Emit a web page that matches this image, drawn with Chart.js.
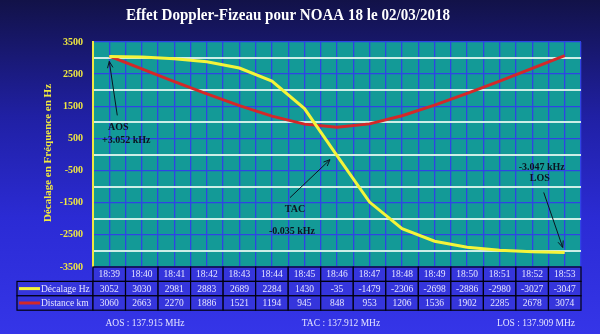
<!DOCTYPE html>
<html><head><meta charset="utf-8">
<script src="https://cdn.jsdelivr.net/npm/chart.js@4"></script>
<style>html,body{margin:0;padding:0;background:#1a1a60}#c{display:block}</style>
</head><body>
<canvas id="c" width="600" height="334"></canvas>
<script>
const times = ['18:39','18:40','18:41','18:42','18:43','18:44','18:45','18:46','18:47','18:48','18:49','18:50','18:51','18:52','18:53'];
const decalage = [3052,3030,2981,2883,2689,2284,1430,-35,-1479,-2306,-2698,-2886,-2980,-3027,-3047];
const distance = [3060,2663,2270,1886,1521,1194,945,848,953,1206,1536,1902,2285,2678,3074];
const seriesNames = ['Décalage Hz','Distance km'];
const titleText = 'Effet Doppler-Fizeau pour NOAA 18 le 02/03/2018';
const yTitle = 'Décalage en Fréquence en Hz';
const freqNotes = ['AOS : 137.915 MHz','TAC : 137.912 MHz','LOS : 137.909 MHz'];
const yMin = -3500, yMax = 3500, yStep = 500;

const SERIF = '"Liberation Serif", "DejaVu Serif", serif';
const YELLOW = '#f4f43a', RED = '#d42828';

function fitText(ctx, text, x, y, maxW) {
  const w = ctx.measureText(text).width;
  if (w > maxW) {
    ctx.save(); ctx.translate(x, y); ctx.scale(maxW / w, 1);
    ctx.fillText(text, 0, 0); ctx.restore();
  } else ctx.fillText(text, x, y);
}

const deco = {
  id: 'deco',
  beforeDraw(chart) {
    const {ctx, chartArea: a, width, height} = chart;
    ctx.save();
    const g = ctx.createLinearGradient(0, 0, 0, height);
    g.addColorStop(0, '#121248');
    g.addColorStop(0.35, '#2020a4');
    g.addColorStop(0.65, '#2b2bd4');
    g.addColorStop(1, '#3535e8');
    ctx.fillStyle = g; ctx.fillRect(0, 0, width, height);
    ctx.fillStyle = '#139a97';
    ctx.fillRect(a.left, a.top, a.right - a.left, a.bottom - a.top);
    ctx.restore();
  },
  afterDraw(chart) {
    const {ctx, chartArea: a} = chart;
    const xs = chart.scales.x, ys = chart.scales.y;
    ctx.save();
    // title
    ctx.fillStyle = '#ffffff';
    ctx.font = 'bold 16px ' + SERIF;
    ctx.textAlign = 'center'; ctx.textBaseline = 'middle';
    fitText(ctx, titleText, 288, 16, 324);
    // y title
    ctx.save();
    ctx.translate(48, 153); ctx.rotate(-Math.PI / 2);
    ctx.fillStyle = '#f0e840';
    ctx.font = 'bold 11px ' + SERIF;
    ctx.fillText(yTitle, 0, 0);
    ctx.restore();

    // table
    const colW = xs.getPixelForValue(1) - xs.getPixelForValue(0);
    const top = a.bottom, rh = 14.4;
    const legL = 17;
    ctx.lineWidth = 1.2; ctx.strokeStyle = '#000010';
    const rows = [times, decalage, distance];
    for (let r = 0; r < 3; r++) {
      const y0 = top + r * rh;
      if (r > 0) {
        ctx.fillStyle = '#3535dc';
        ctx.fillRect(legL, y0, a.left - legL, rh);
        ctx.strokeRect(legL, y0, a.left - legL, rh);
        ctx.strokeStyle = r === 1 ? YELLOW : RED;
        ctx.lineWidth = 3;
        ctx.beginPath(); ctx.moveTo(19, y0 + rh / 2); ctx.lineTo(40, y0 + rh / 2); ctx.stroke();
        ctx.lineWidth = 1.2; ctx.strokeStyle = '#000010';
        ctx.fillStyle = '#e4e4ff'; ctx.textAlign = 'left';
        ctx.font = '9.5px ' + SERIF;
        fitText(ctx, seriesNames[r - 1], 41, y0 + rh / 2 + 0.5, 50);
      }
      ctx.font = '9.5px ' + SERIF;
      for (let i = 0; i < times.length; i++) {
        const cx = xs.getPixelForValue(i);
        const x0 = cx - colW / 2;
        ctx.fillStyle = '#3535dc';
        ctx.fillRect(x0, y0, colW, rh);
        ctx.strokeRect(x0, y0, colW, rh);
        ctx.fillStyle = '#e4e4ff'; ctx.textAlign = 'center';
        ctx.fillText(String(rows[r][i]), cx, y0 + rh / 2 + 0.5);
      }
    }
    // freq notes
    ctx.fillStyle = '#e4e4ff';
    ctx.font = '9.5px ' + SERIF;
    ctx.textAlign = 'center';
    ctx.fillText(freqNotes[0], 145, 323);
    ctx.fillText(freqNotes[1], 341, 323);
    ctx.fillText(freqNotes[2], 536, 323);

    // annotations
    const arrow = (x1, y1, x2, y2) => {
      ctx.strokeStyle = '#0a1420'; ctx.fillStyle = '#0a1420'; ctx.lineWidth = 1;
      ctx.beginPath(); ctx.moveTo(x1, y1); ctx.lineTo(x2, y2); ctx.stroke();
      const ang = Math.atan2(y2 - y1, x2 - x1), L = 7, w = 0.4;
      ctx.beginPath();
      ctx.moveTo(x2 - L * Math.cos(ang - w), y2 - L * Math.sin(ang - w));
      ctx.lineTo(x2, y2);
      ctx.lineTo(x2 - L * Math.cos(ang + w), y2 - L * Math.sin(ang + w));
      ctx.stroke();
    };
    ctx.font = 'bold 10px ' + SERIF;
    ctx.fillStyle = '#0a1420';
    const n = times.length - 1;
    const p0 = {x: xs.getPixelForValue(0), y: ys.getPixelForValue(decalage[0])};
    arrow(p0.x + 8, p0.y + 59, p0.x, p0.y + 5);
    ctx.fillStyle = '#0a1420'; ctx.textAlign = 'center';
    ctx.fillText('AOS', p0.x + 9, p0.y + 71);
    ctx.fillText('+3.052 kHz', p0.x + 17, p0.y + 84);
    const p7 = {x: xs.getPixelForValue(7), y: ys.getPixelForValue(decalage[7])};
    arrow(p7.x - 47, p7.y + 42, p7.x - 7, p7.y + 4);
    ctx.fillStyle = '#0a1420';
    ctx.fillText('TAC', p7.x - 42, p7.y + 54);
    ctx.fillText('-0.035 kHz', p7.x - 45, p7.y + 76);
    const pn = {x: xs.getPixelForValue(n), y: ys.getPixelForValue(decalage[n])};
    arrow(pn.x - 21, pn.y - 60, pn.x - 2, pn.y - 5);
    ctx.fillStyle = '#0a1420';
    ctx.fillText('-3.047 kHz', pn.x - 23, pn.y - 85);
    ctx.fillText('LOS', pn.x - 25, pn.y - 74);
    ctx.restore();
  }
};

new Chart(document.getElementById('c'), {
  type: 'line',
  data: {
    datasets: [
      {label: seriesNames[0], data: decalage.map((v, i) => ({x: i, y: v})), borderColor: YELLOW, borderWidth: 3, pointRadius: 0, tension: 0},
      {label: seriesNames[1], data: distance.map((v, i) => ({x: i, y: v})), borderColor: RED, borderWidth: 3, pointRadius: 0, tension: 0}
    ]
  },
  options: {
    responsive: false, animation: false, devicePixelRatio: 1,
    layout: {padding: {left: 0, right: 19, top: 42, bottom: 67}},
    plugins: {legend: {display: false}, tooltip: {enabled: false}, title: {display: false}},
    scales: {
      x: {
        type: 'linear', min: -0.5, max: times.length - 0.5,
        ticks: {display: false, stepSize: 0.5},
        grid: {color: '#2f44e4', lineWidth: 1.3, drawTicks: false},
        border: {display: false},
        afterFit(s) { s.height = 0; }
      },
      y: {
        min: yMin, max: yMax,
        ticks: {
          stepSize: yStep, padding: 10, color: '#f0e840',
          font: {family: SERIF, weight: 'bold', size: 10},
          callback: v => (Math.abs(v) % 1000 === 500 ? String(v) : '')
        },
        grid: {
          drawTicks: false,
          color: c => (c.tick && c.tick.value % 1000 === 0 ? '#cdeee6' : '#2f44e4'),
          lineWidth: c => (c.tick && c.tick.value % 1000 === 0 ? 2 : 1.3)
        },
        border: {display: true, color: '#f0e840', width: 2},
        afterFit(s) { s.width = 93; }
      }
    }
  },
  plugins: [deco]
});
</script>
</body></html>
